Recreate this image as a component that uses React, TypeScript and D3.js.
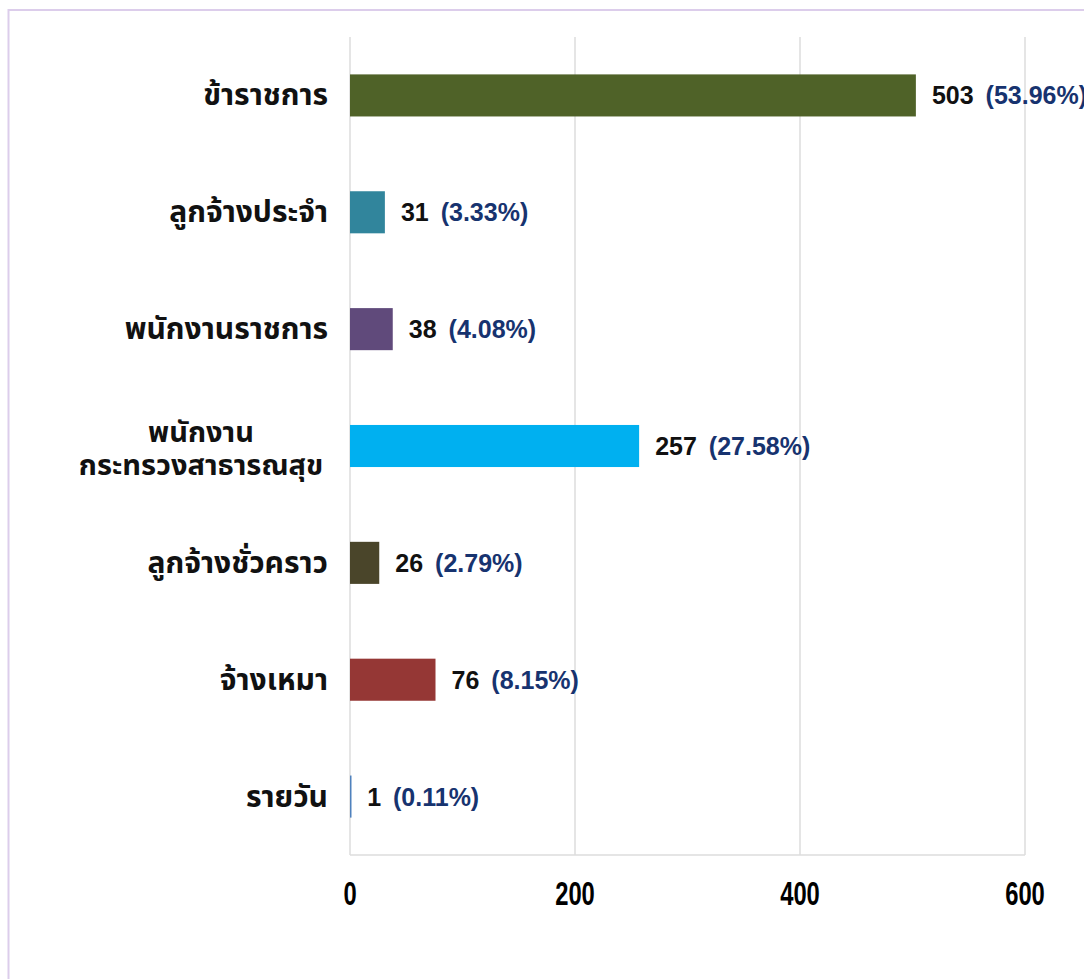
import React from "react";
import * as d3 from "d3";

// Staff counts by employment type
const categories = [
  "ข้าราชการ",
  "ลูกจ้างประจำ",
  "พนักงานราชการ",
  "พนักงาน\nกระทรวงสาธารณสุข",
  "ลูกจ้างชั่วคราว",
  "จ้างเหมา",
  "รายวัน",
];
const counts = [503, 31, 38, 257, 26, 76, 1];
const shares = ["(53.96%)", "(3.33%)", "(4.08%)", "(27.58%)", "(2.79%)", "(8.15%)", "(0.11%)"];
const barColors = ["#4F6228", "#31859C", "#604A7B", "#00B0F0", "#4A452A", "#953735", "#4F81BD"];
const xTicks = [0, 200, 400, 600];

const W = 1084;
const H = 979;
const plot = { left: 350, right: 1025, top: 37, bottom: 855 };
const thaiFont = "'Noto Sans Thai', 'Noto Sans Thai Looped', Loma, 'Noto Sans', sans-serif";
const numFont = "'Liberation Sans', Arial, Helvetica, sans-serif";

export default function App() {
  const x = d3.scaleLinear().domain([0, 600]).range([plot.left, plot.right]);
  const y = d3
    .scaleBand<string>()
    .domain(categories)
    .range([plot.top, plot.bottom])
    .paddingInner(0.64)
    .paddingOuter(0.32);

  return (
    <svg
      width={W}
      height={H}
      style={{ position: "absolute", left: 0, top: 0, background: "#fff" }}
    >
      {/* frame */}
      <rect x={8.5} y={10} width={W + 20} height={H + 20} fill="none" stroke="#DCCDEB" strokeWidth={2} />

      {/* vertical gridlines */}
      {xTicks.map((t) => (
        <line key={t} x1={x(t)} x2={x(t)} y1={plot.top} y2={plot.bottom} stroke="#DDDDDD" strokeWidth={1.5} />
      ))}
      <line x1={plot.left} x2={plot.right} y1={plot.bottom} y2={plot.bottom} stroke="#DDDDDD" strokeWidth={1.5} />

      {/* bars */}
      {categories.map((c, i) => (
        <rect
          key={c}
          x={x(0)}
          y={y(c)!}
          width={Math.max(x(counts[i]) - x(0), 1.5)}
          height={y.bandwidth()}
          fill={barColors[i]}
        />
      ))}

      {/* value + share labels */}
      {categories.map((c, i) => {
        const cy = y(c)! + y.bandwidth() / 2;
        return (
          <text
            key={c}
            x={x(counts[i]) + 16}
            y={cy + 9}
            fontFamily={numFont}
            fontWeight="bold"
            fontSize={25}
          >
            <tspan fill="#111">{counts[i]}</tspan>
            <tspan dx={12} fill="#17336F">{shares[i]}</tspan>
          </text>
        );
      })}

      {/* category labels */}
      {categories.map((c) => {
        const cy = y(c)! + y.bandwidth() / 2;
        const lines = c.split("\n");
        if (lines.length === 1) {
          return (
            <text
              key={c}
              x={328}
              y={cy + 10}
              textAnchor="end"
              fontFamily={thaiFont}
              fontWeight="bold"
              fontSize={30}
              fill="#111"
            >
              {c}
            </text>
          );
        }
        return (
          <g key={c}>
            {lines.map((l, k) => (
              <text
                key={k}
                x={201}
                y={cy + 12 + (k - 0.5) * 33}
                textAnchor="middle"
                fontFamily={thaiFont}
                fontWeight="bold"
                fontSize={29}
                fill="#111"
              >
                {l}
              </text>
            ))}
          </g>
        );
      })}

      {/* x-axis tick labels */}
      {xTicks.map((t) => (
        <text
          key={t}
          transform={`translate(${x(t)},905) scale(0.7,1)`}
          textAnchor="middle"
          fontFamily={numFont}
          fontWeight="bold"
          fontSize={34}
          fill="#000"
        >
          {t}
        </text>
      ))}
    </svg>
  );
}
